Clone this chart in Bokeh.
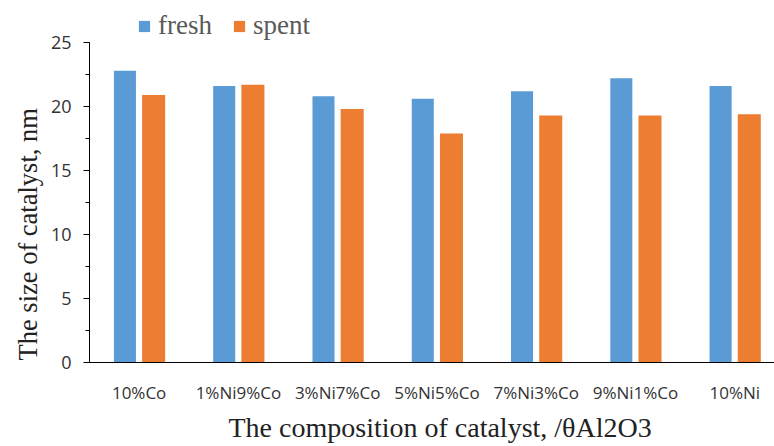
import numpy as np
from bokeh.plotting import figure
from bokeh.models import (ColumnDataSource, Range1d, FixedTicker, SingleIntervalTicker,
                          Legend, LegendItem, Title)
from bokeh.transform import dodge
from bokeh.embed import file_html
from bokeh.resources import INLINE

categories = ["10%Co", "1%Ni9%Co", "3%Ni7%Co", "5%Ni5%Co", "7%Ni3%Co", "9%Ni1%Co", "10%Ni"]
fresh = [22.8, 21.6, 20.8, 20.6, 21.2, 22.2, 21.6]
spent = [20.9, 21.7, 19.8, 17.9, 19.3, 19.3, 19.4]
series_names = ["fresh", "spent"]

idx = list(range(len(categories)))
src = ColumnDataSource(dict(x=idx, fresh=fresh, spent=spent, cat=categories))

p = figure(width=774, height=446, output_backend="svg", toolbar_location=None,
           x_range=Range1d(-0.5, 6.4), y_range=Range1d(0, 28.125),
           min_border_left=89, min_border_right=0, min_border_top=2, min_border_bottom=84)
p.frame_width = 685
p.frame_height = 360
p.outline_line_color = None
p.xgrid.grid_line_color = None
p.ygrid.grid_line_color = None
p.background_fill_color = "white"
p.border_fill_color = "white"

r1 = p.vbar(x=dodge("x", -0.143, range=p.x_range), top="fresh", width=0.222, source=src,
            fill_color="#5B9BD5", line_color=None)
r2 = p.vbar(x=dodge("x", 0.146, range=p.x_range), top="spent", width=0.232, source=src,
            fill_color="#ED7D31", line_color=None)

# x axis
xa = p.xaxis[0]
xa.ticker = FixedTicker(ticks=idx)
xa.major_label_overrides = {i: c for i, c in zip(idx, categories)}
xa.major_tick_out = 0
xa.major_tick_in = 0
xa.minor_tick_out = 0
xa.axis_line_color = "black"
xa.major_label_text_font = "Open Sans"
xa.major_label_text_font_size = "17px"
xa.major_label_text_color = "#333333"
xa.major_label_standoff = 18

# y axis
ya = p.yaxis[0]
ya.ticker = SingleIntervalTicker(interval=5, num_minor_ticks=2)
ya.bounds = (0, 25)
ya.major_tick_out = 6
ya.major_tick_in = 0
ya.minor_tick_out = 4
ya.minor_tick_in = 0
ya.axis_line_color = "black"
ya.major_tick_line_color = "black"
ya.minor_tick_line_color = "black"
ya.major_label_text_font = "Open Sans"
ya.major_label_text_font_size = "18px"
ya.major_label_text_color = "#333333"
ya.major_label_standoff = 12
ya.axis_label_standoff = 0

xt = Title(text="The composition of catalyst, /\u03b8Al2O3", align="left", offset=139,
           text_font="Liberation Serif", text_font_size="28px", text_font_style="normal",
           text_color="#222222", standoff=6)
p.add_layout(xt, "below")

yt = Title(text="The size of catalyst, nm", align="left", offset=2, vertical_align="top",
           text_font="Liberation Serif", text_font_size="26.5px", text_font_style="normal",
           text_color="#222222", standoff=6)
p.add_layout(yt, "left")

legend = Legend(items=[LegendItem(label=series_names[0], renderers=[r1]),
                       LegendItem(label=series_names[1], renderers=[r2])],
                orientation="horizontal", location=(48, 321),
                padding=0, margin=0, spacing=20, label_standoff=7,
                glyph_width=14, glyph_height=14,
                label_text_font="Liberation Serif", label_text_font_size="27px",
                label_text_color="#595959",
                border_line_color=None, background_fill_alpha=0)
p.add_layout(legend, "center")

open("out.html", "w").write(file_html(p, INLINE))
